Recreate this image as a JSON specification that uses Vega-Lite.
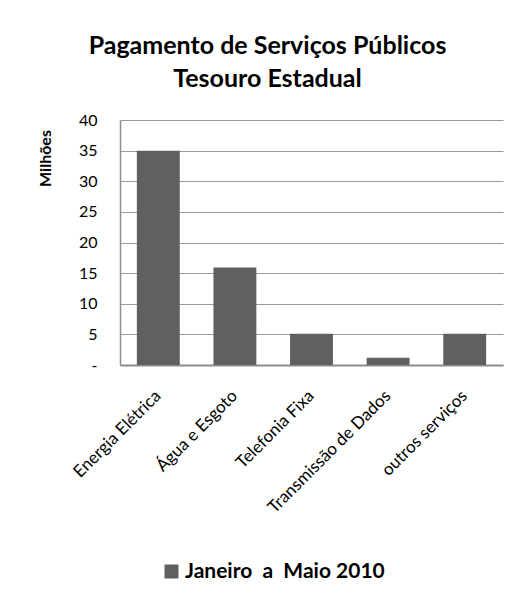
{
  "$schema": "https://vega.github.io/schema/vega-lite/v6.json",
  "autosize": "none",
  "width": 383,
  "height": 245,
  "padding": {"left": 120, "top": 120, "right": 12, "bottom": 233},
  "background": "white",
  "title": {
    "text": ["Pagamento de Serviços Públicos", "Tesouro Estadual"],
    "font": "Lato",
    "fontSize": 25,
    "fontWeight": "bold",
    "color": "black",
    "anchor": "middle",
    "frame": "group",
    "dx": -44,
    "offset": 20,
    "lineHeight": 33
  },
  "data": {
    "values": [
      {"servico": "Energia Elétrica", "valor": 35.0, "periodo": "Janeiro  a  Maio 2010"},
      {"servico": "Água e Esgoto", "valor": 15.9, "periodo": "Janeiro  a  Maio 2010"},
      {"servico": "Telefonia Fixa", "valor": 5.1, "periodo": "Janeiro  a  Maio 2010"},
      {"servico": "Transmissão  de Dados", "valor": 1.2, "periodo": "Janeiro  a  Maio 2010"},
      {"servico": "outros serviços", "valor": 5.1, "periodo": "Janeiro  a  Maio 2010"}
    ]
  },
  "mark": {"type": "bar"},
  "encoding": {
    "x": {
      "field": "servico",
      "type": "nominal",
      "sort": null,
      "scale": {"paddingInner": 0.44, "paddingOuter": 0.22},
      "axis": {
        "title": null,
        "labelAngle": -45,
        "labelAlign": "right",
        "labelBaseline": "middle",
        "labelFont": "Lato",
        "labelFontSize": 17,
        "labelColor": "black",
        "labelPadding": 28,
        "ticks": false,
        "domainColor": "#8c8c8c",
        "domainWidth": 2,
        "labelLimit": 300
      }
    },
    "y": {
      "field": "valor",
      "type": "quantitative",
      "scale": {"domain": [0, 40]},
      "axis": {
        "title": "Milhões",
        "titleFont": "Lato",
        "titleFontSize": 16,
        "titleFontWeight": "bold",
        "titleColor": "black",
        "titleAngle": -90,
        "titleX": -75,
        "titleY": 38,
        "titleAlign": "center",
        "titleBaseline": "middle",
        "values": [0, 5, 10, 15, 20, 25, 30, 35, 40],
        "labelExpr": "datum.value == 0 ? '-' : datum.label",
        "labelFont": "Lato",
        "labelFontSize": 16,
        "labelColor": "black",
        "labelPadding": 23,
        "ticks": false,
        "domainColor": "#8c8c8c",
        "domainWidth": 1.5,
        "gridColor": "#9a9a9a",
        "gridWidth": 1
      }
    },
    "color": {
      "field": "periodo",
      "type": "nominal",
      "scale": {"range": ["#606060"]},
      "legend": {
        "title": null,
        "orient": "none",
        "legendX": 41,
        "legendY": 441,
        "symbolType": "square",
        "symbolSize": 196,
        "labelFont": "Lato",
        "labelFontSize": 21,
        "labelFontWeight": "bold",
        "labelColor": "black",
        "labelOffset": 3,
        "labelExpr": "'Janeiro\u00a0\u00a0a\u00a0\u00a0Maio 2010'",
        "labelLimit": 400
      }
    }
  },
  "config": {
    "view": {"stroke": null}
  }
}
